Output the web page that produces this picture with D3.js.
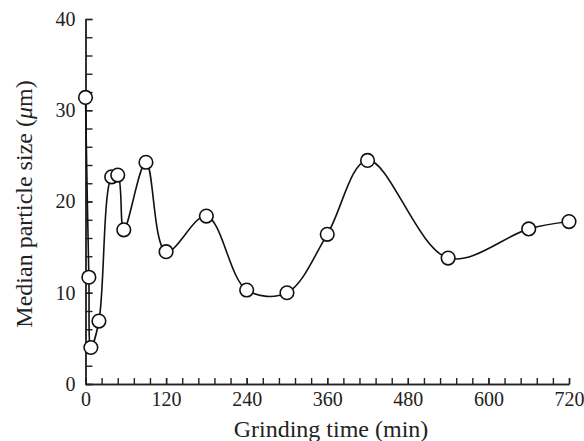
<!DOCTYPE html>
<html>
<head>
<meta charset="utf-8">
<script src="https://cdn.jsdelivr.net/npm/d3@7"></script>
<style>
  body { margin: 0; background: #fff; }
  svg { display: block; }
  .axis text { font-family: "Liberation Serif", "Times New Roman", serif; font-size: 20px; fill: #222; }
  .axis path, .axis line { stroke: #222; stroke-width: 1.4px; }
  .title { font-family: "Liberation Serif", "Times New Roman", serif; font-size: 24px; fill: #222; }
</style>
</head>
<body>
<svg id="chart" width="584" height="441"></svg>
<script>
// grinding time (min) vs median particle size (um)
const times = [0, 5, 8, 20, 39, 48, 57, 90, 120, 180, 240, 300, 360, 420, 540, 660, 720];
const sizes = [31.4, 11.7, 4.0, 6.9, 22.7, 22.9, 16.9, 24.3, 14.5, 18.4, 10.3, 10.0, 16.4, 24.5, 13.8, 17.0, 17.8];

const xMajorTicks = [0, 120, 240, 360, 480, 600, 720];
const xMinorTicks = d3.range(0, 721, 24);
const yMajorTicks = [0, 10, 20, 30, 40];
const yMinorTicks = d3.range(0, 41, 2);

const svg = d3.select("#chart");
const plotLeft = 85.5, plotRight = 569, plotTop = 19, plotBottom = 384;

const x = d3.scaleLinear().domain([0, 720]).range([plotLeft, plotRight]);
const y = d3.scaleLinear().domain([0, 40]).range([plotBottom, plotTop]);

const points = times.map((t, i) => ({ t, v: sizes[i] }));

// minor ticks first, then the labelled ones on top
svg.append("g")
  .attr("class", "axis")
  .attr("transform", `translate(0,${plotBottom})`)
  .call(d3.axisBottom(x).tickValues(xMinorTicks).tickSize(-6).tickSizeOuter(0).tickFormat(""));

svg.append("g")
  .attr("class", "axis")
  .attr("transform", `translate(0,${plotBottom})`)
  .call(d3.axisBottom(x).tickValues(xMajorTicks).tickSize(-6).tickSizeOuter(0).tickPadding(8));

svg.append("g")
  .attr("class", "axis")
  .attr("transform", `translate(${plotLeft},0)`)
  .call(d3.axisLeft(y).tickValues(yMinorTicks).tickSize(-7).tickSizeOuter(0).tickFormat(""));

svg.append("g")
  .attr("class", "axis")
  .attr("transform", `translate(${plotLeft},0)`)
  .call(d3.axisLeft(y).tickValues(yMajorTicks).tickSize(-7).tickSizeOuter(0).tickPadding(10));

// hand-drawn looking smooth curve through the points
const line = d3.line()
  .x(d => x(d.t))
  .y(d => y(d.v))
  .curve(d3.curveCatmullRom.alpha(0.5));

svg.append("path")
  .datum(points)
  .attr("d", line)
  .attr("fill", "none")
  .attr("stroke", "#111")
  .attr("stroke-width", 1.6);

svg.append("g")
  .selectAll("circle")
  .data(points)
  .enter().append("circle")
  .attr("cx", d => x(d.t))
  .attr("cy", d => y(d.v))
  .attr("r", 6.8)
  .attr("fill", "#fff")
  .attr("stroke", "#111")
  .attr("stroke-width", 1.6);

svg.append("text")
  .attr("class", "title")
  .attr("x", 331)
  .attr("y", 437)
  .attr("text-anchor", "middle")
  .text("Grinding time (min)");

svg.append("text")
  .attr("class", "title")
  .attr("transform", "translate(32,204) rotate(-90)")
  .attr("text-anchor", "middle")
  .html('Median particle size (<tspan font-style="italic">μ</tspan>m)');
</script>
</body>
</html>
